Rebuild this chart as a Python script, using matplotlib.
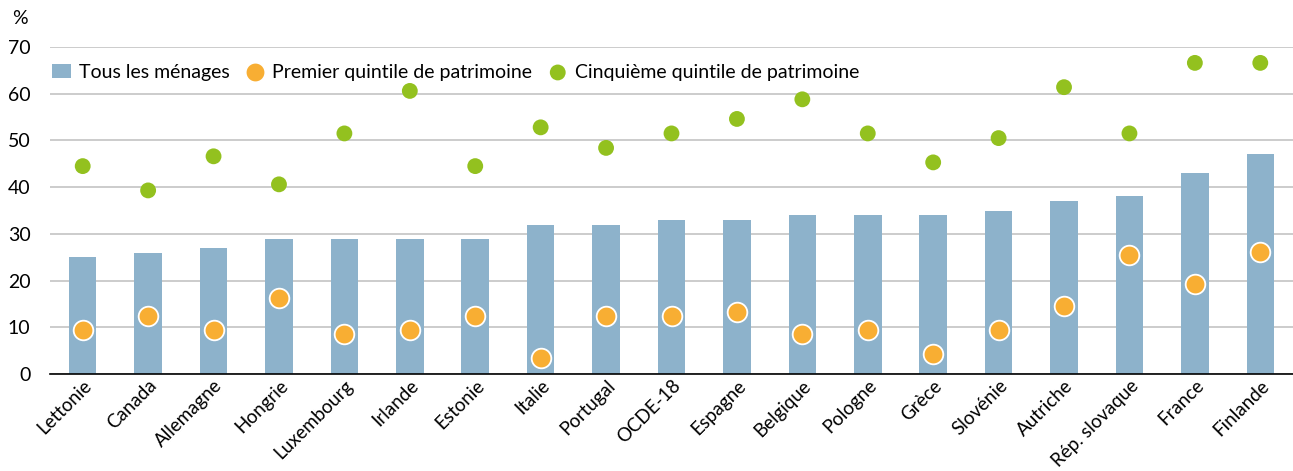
import matplotlib.pyplot as plt
import numpy as np

pays = ['Lettonie', 'Canada', 'Allemagne', 'Hongrie', 'Luxembourg', 'Irlande',
        'Estonie', 'Italie', 'Portugal', 'OCDE-18', 'Espagne', 'Belgique',
        'Pologne', 'Grèce', 'Slovénie', 'Autriche', 'Rép. slovaque', 'France',
        'Finlande']
tous = [25, 26, 27, 29, 29, 29, 29, 32, 32, 33, 33, 34, 34, 34, 35, 37, 38, 43, 47]
premier = [9.4, 12.4, 9.4, 16.3, 8.6, 9.4, 12.4, 3.4, 12.4, 12.4, 13.3, 8.6,
           9.4, 4.3, 9.4, 14.6, 25.4, 19.3, 26.2]
cinquieme = [44.5, 39.3, 46.6, 40.6, 51.5, 60.6, 44.5, 52.8, 48.4, 51.5, 54.6,
             58.8, 51.5, 45.3, 50.5, 61.4, 51.5, 66.6, 66.6]

plt.rcParams['font.family'] = ['Lato', 'DejaVu Sans']

x = np.arange(len(pays))
fig = plt.figure(figsize=(12.93, 4.71), dpi=100)
ax = fig.add_axes([50 / 1293, 1 - 374 / 471, 1 - 50 / 1293, (374 - 47) / 471])

b = ax.bar(x, tous, 0.42, color='#8db2cb', zorder=2)
p1 = ax.scatter(x, premier, s=200, color='#f8ae33', edgecolor='white', linewidth=1.3,
                zorder=3)
p5 = ax.scatter(x, cinquieme, s=130, color='#93c11f', edgecolor='none', zorder=3)

ax.set_xlim(-0.5, len(pays) - 0.5)
ax.set_ylim(0, 70)
ax.set_yticks(range(0, 71, 10))
ax.yaxis.grid(True, color='#c4c4c4', linewidth=1.2, zorder=0)
ax.set_axisbelow(True)
for s in ['left', 'right', 'top']:
    ax.spines[s].set_visible(False)
ax.spines['bottom'].set_color('black')
ax.spines['bottom'].set_linewidth(1.2)
ax.tick_params(axis='both', length=0)
ax.tick_params(axis='y', pad=14, labelsize=14)
ax.tick_params(axis='x', pad=2, labelsize=13.5)
ax.set_xticks(x)
ax.set_xticklabels(pays, rotation=45, ha='right', rotation_mode='anchor')

fig.text(20 / 1293, 1 - 18 / 471, '%', fontsize=14, ha='center', va='center')

ax.legend([b, p1, p5],
          ['Tous les ménages', 'Premier quintile de patrimoine',
           'Cinquième quintile de patrimoine'],
          loc='upper left', ncol=3, frameon=False, fontsize=14,
          bbox_to_anchor=(-0.008, 0.985), handletextpad=0.4, columnspacing=0.8,
          handlelength=1.0, borderaxespad=0.2)

fig.savefig('out.png', dpi=100)
